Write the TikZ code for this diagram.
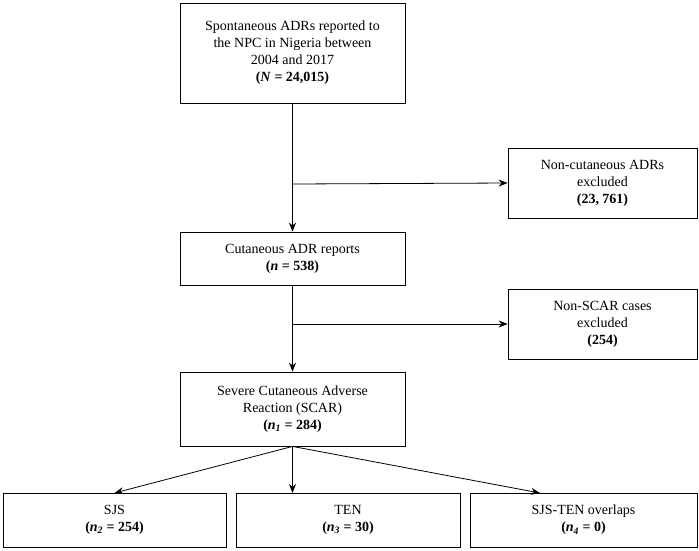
\documentclass[tikz,border=0pt]{standalone}
\usepackage{fontspec}
\setmainfont{Liberation Serif}
\usetikzlibrary{arrows.meta}
\begin{document}
\begin{tikzpicture}[x=1pt,y=-1pt,
  box/.style={draw,line width=0.8pt,align=center,font=\fontsize{14}{17}\selectfont,inner sep=0pt},
  arr/.style={line width=0.8pt,-{Stealth[length=9pt,width=7pt]}}]
\useasboundingbox (0,0) rectangle (699,550);
\node[box,minimum width=225pt,minimum height=100pt] (a) at (292.5,53) {Spontaneous ADRs reported to\\the NPC in Nigeria between\\2004 and 2017\\\textbf{(\textit{N} = 24,015)}};
\node[box,minimum width=189pt,minimum height=70pt] (b) at (602.5,183) {Non-cutaneous ADRs\\excluded\\\textbf{(23, 761)}};
\node[box,minimum width=225pt,minimum height=53pt] (c) at (292.5,258.5) {Cutaneous ADR reports\\\textbf{(\textit{n} = 538)}};
\node[box,minimum width=189pt,minimum height=70pt] (d) at (602.5,324) {Non-SCAR cases\\excluded\\\textbf{(254)}};
\node[box,minimum width=225pt,minimum height=74pt] (e) at (292.5,409) {Severe Cutaneous Adverse\\Reaction (SCAR)\\\textbf{(\textit{n\textsubscript{1}} = 284)}};
\node[box,minimum width=223pt,minimum height=54pt] (f) at (114.5,520) {SJS\\\textbf{(\textit{n\textsubscript{2}} = 254)}};
\node[box,minimum width=224pt,minimum height=54pt] (g) at (348,520) {TEN\\\textbf{(\textit{n\textsubscript{3}} = 30)}};
\node[box,minimum width=227pt,minimum height=54pt] (h) at (583.5,520) {SJS-TEN overlaps\\\textbf{(\textit{n\textsubscript{4}} = 0)}};
\coordinate (j1) at (292.5,184);
\coordinate (j2) at (292.5,324);
\draw[arr] (a.south) -- (c.north);
\draw[arr] (j1) -- (b.west);
\draw[arr] (c.south) -- (e.north);
\draw[arr] (j2) -- (d.west);
\draw[arr] (e.south) -- (114.5,493);
\draw[arr] (e.south) -- (292.5,493);
\draw[arr] (e.south) -- (540,493);
\end{tikzpicture}
\end{document}
